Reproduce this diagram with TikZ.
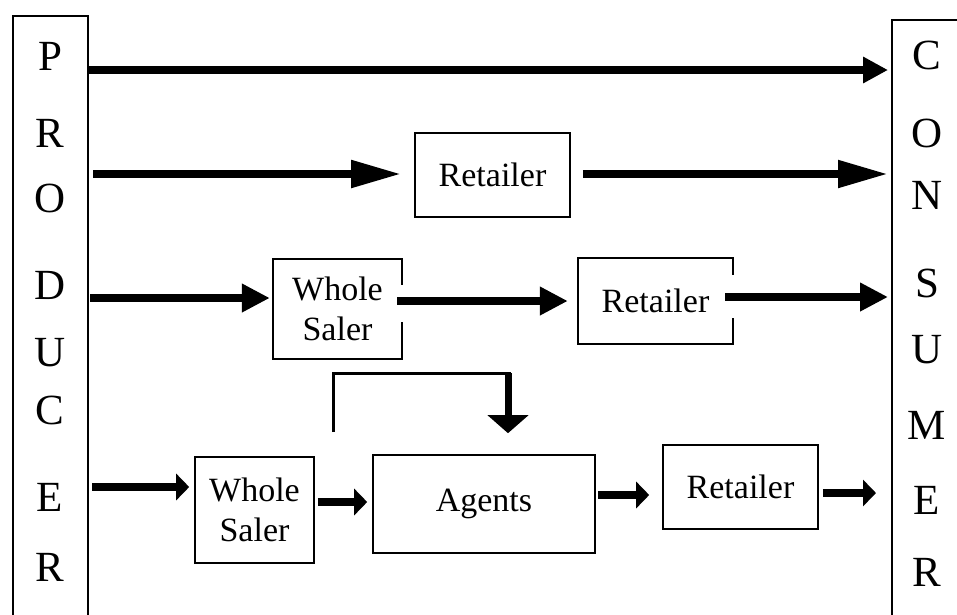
\documentclass[tikz,border=0pt]{standalone}
\usepackage{fontspec}
\setmainfont{Liberation Serif}
\usetikzlibrary{arrows.meta}
\begin{document}
\begin{tikzpicture}[x=1pt,y=-1pt,
  frame/.style={draw, line width=1.6pt, inner sep=0pt},
  box/.style={frame, align=center, font=\fontsize{34}{40}\selectfont},
  openbox/.style={inner sep=0pt, align=center, font=\fontsize{34}{40}\selectfont},
  letter/.style={inner sep=0pt, font=\fontsize{43}{43}\selectfont},
  edge/.style={line width=1.6pt},
  arrA/.style={line width=8.5pt, -{Triangle[length=25pt,width=25pt]}},
  arrB/.style={line width=8pt, -{Triangle[length=50pt,width=26pt]}},
  arrC/.style={line width=8pt, -{Triangle[length=28pt,width=27pt]}},
  arrD/.style={line width=8pt, -{Triangle[length=13pt,width=26pt]}},
  arrE/.style={line width=7pt, -{Triangle[length=18pt,width=40pt]}},
  bracket/.style={line width=3pt}
]
\useasboundingbox (0,0) rectangle (957,614);

% producer and consumer columns
\node[frame, minimum width=75pt, minimum height=640pt, anchor=north west] (producer) at (12,15) {};
\node[frame, minimum width=75pt, minimum height=640pt, anchor=north west] (consumer) at (891,19) {};

\foreach \l/\yy [count=\i] in {P/56,R/133,O/198,D/285,U/353,C/410,E/497,R/567}
  \node[letter] (pl\i) at (50,\yy) {\l};
\foreach \l/\yy [count=\i] in {C/55,O/133,N/195,S/283,U/350,M/425,E/500,R/572}
  \node[letter] (cl\i) at (927,\yy) {\l};

% row 1
\coordinate (p1) at (88,70);
\coordinate (c1) at (888,70);
\draw[arrA] (p1) -- (c1);

% row 2
\node[box, minimum width=155pt, minimum height=84pt] (ret2) at (492.5,175) {Retailer};
\coordinate (p2) at (93,174);
\coordinate (c2) at (888,174);
\draw[arrB] (p2) -- (p2 -| ret2.west) [shorten >=13pt];
\draw[arrB] ([xshift=12pt]ret2.east |- c2) -- (c2);

% row 3
\node[openbox, minimum width=129pt, minimum height=100pt] (ws3) at (337.5,309) {Whole\\Saler};
\draw[edge] (ws3.east |- 0,322) -- (ws3.south east) -- (ws3.south west) -- (ws3.north west) -- (ws3.north east) -- (ws3.east |- 0,285);
\node[openbox, minimum width=155pt, minimum height=86pt] (ret3) at (655.5,301) {Retailer};
\draw[edge] (ret3.east |- 0,318) -- (ret3.south east) -- (ret3.south west) -- (ret3.north west) -- (ret3.north east) -- (ret3.east |- 0,275);
\coordinate (p3) at (90,298);
\coordinate (c3) at (888,297);
\draw[arrC, shorten >=3pt] (p3) -- (p3 -| ws3.west);
\draw[arrC, shorten >=10pt] ([xshift=-5pt]ws3.east |- 0,301) -- (ret3.west |- 0,301);
\draw[arrC] ([xshift=-8pt]ret3.east |- c3) -- (c3);

% row 4
\node[box, minimum width=119pt, minimum height=106pt] (ws4) at (254.5,510) {Whole\\Saler};
\node[box, minimum width=222pt, minimum height=98pt] (agents) at (484,504) {Agents};
\node[box, minimum width=155pt, minimum height=84pt] (ret4) at (740.5,487) {Retailer};
\coordinate (p4) at (92,487);
\coordinate (c4) at (876,493);
\draw[arrD, shorten >=5pt] (p4) -- (p4 -| ws4.west);
\draw[arrD, shorten >=5pt] ([xshift=3pt]ws4.east |- 0,502) -- (agents.west |- 0,502);
\draw[arrD, shorten >=13pt] ([xshift=2pt]agents.east |- 0,495) -- (ret4.west |- 0,495);
\draw[arrD] ([xshift=4pt]ret4.east |- c4) -- (c4);

% bracket into agents
\coordinate (b1) at (333,432);
\coordinate (b2) at (333,373);
\coordinate (b3) at (508,373);
\draw[bracket] (b1) -- (b2) -- ([xshift=3pt]b3);
\draw[arrE, shorten >=21pt] (b3) -- (b3 |- agents.north);
\end{tikzpicture}
\end{document}
